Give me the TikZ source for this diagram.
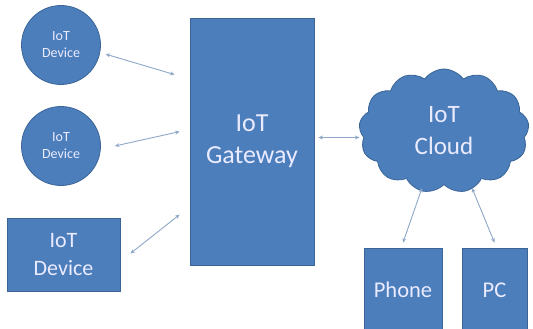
\documentclass[tikz,border=0pt]{standalone}
\usepackage{fontspec}
\setmainfont{Carlito}
\usetikzlibrary{shapes.symbols,arrows.meta}
\definecolor{iotblue}{HTML}{4C7EBC}
\definecolor{iotedge}{HTML}{3A6596}
\definecolor{iotlink}{HTML}{8FA8C8}
\begin{document}
\begin{tikzpicture}[x=1pt, y=-1pt,
    unit/.style={fill=iotblue, draw=iotedge, line width=0.8pt, text=white!92!blue,
        align=center, inner sep=0pt},
    circdev/.style={unit, circle, minimum size=79pt,
        font=\fontsize{14}{17}\selectfont},
    link/.style={draw=iotlink, line width=0.9pt,
        {Stealth[length=4.5pt,width=4pt]}-{Stealth[length=4.5pt,width=4pt]}}]
\useasboundingbox[fill=white] (0,0) rectangle (533,329);
% devices
\node[circdev] (dev1) at (61,45) {IoT\\Device};
\node[circdev] (dev2) at (61,146) {IoT\\Device};
\node[unit, minimum width=113pt, minimum height=73pt,
    font=\fontsize{22}{28}\selectfont] (dev3) at (63.5,254.5) {IoT\\Device};
% gateway
\node[unit, minimum width=124pt, minimum height=247pt,
    font=\fontsize{26}{32}\selectfont] (gw) at (252,141.5) {IoT\\Gateway};
% cloud
\node[unit, cloud, cloud puffs=13, cloud puff arc=110, aspect=1.35,
    minimum width=170pt, minimum height=124pt,
    font=\fontsize{25}{32}\selectfont] (cloud) at (444,131) {IoT\\Cloud};
% end devices
\node[unit, minimum width=78pt, minimum height=84pt,
    font=\fontsize{22.5}{28}\selectfont] (phone) at (403,290) {Phone};
\node[unit, minimum width=65pt, minimum height=84pt,
    font=\fontsize{22.5}{28}\selectfont] (pc) at (494.5,290) {PC};
% links
\draw[link] ([shift={(5,5)}]dev1.-6) -- ([shift={(-15,57)}]gw.north west);
\draw[link] ([shift={(14,0)}]dev2.east) -- ([shift={(-10,114)}]gw.north west);
\draw[link] ([shift={(10,-1)}]dev3.east) -- ([shift={(-10,197)}]gw.north west);
\draw[link] ([shift={(4,-4)}]gw.east) -- ([shift={(45,-4)}]gw.east);
\draw[link] ([shift={(-22,57)}]cloud.center) -- ([yshift=5pt]phone.north);
\draw[link] ([shift={(28,57)}]cloud.center) -- ([yshift=5pt]pc.north);
\end{tikzpicture}
\end{document}
